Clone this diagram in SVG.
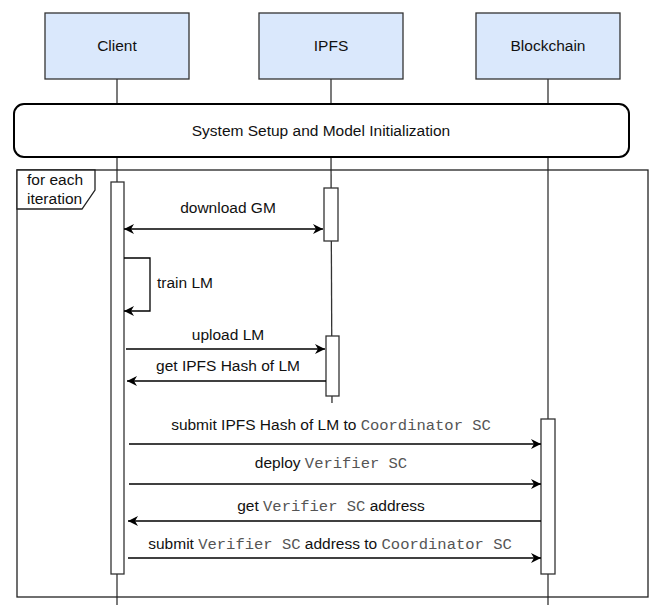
<svg xmlns="http://www.w3.org/2000/svg" width="654" height="605" viewBox="0 0 654 605">
  <style>
    .participant { fill: #dae8fc; stroke: #333; stroke-width: 1.3; }
    .lifeline { stroke: #333; stroke-width: 1.3; fill: none; }
    .activation { fill: #fff; stroke: #333; stroke-width: 1.3; }
    .msg { stroke: #000; stroke-width: 1.3; fill: none; marker-end: url(#arrow); }
    .label { font-family: "Liberation Sans", Arial, sans-serif; font-size: 15.5px; fill: #111; }
    .mono { font-family: "Liberation Mono", "Courier New", monospace; font-size: 15.5px; fill: #555; }
  </style>
  <defs>
    <marker id="arrow" viewBox="-11 -6 12 12" refX="0" refY="0" markerWidth="12" markerHeight="12" markerUnits="userSpaceOnUse" orient="auto-start-reverse">
      <path d="M0,0 L-10,-5 L-7,0 L-10,5 Z" fill="#000"/>
    </marker>
  </defs>
  <rect width="654" height="605" fill="#fff"/>

  <!-- lifelines -->
  <g id="lifelines">
    <line class="lifeline" x1="117" y1="79" x2="117" y2="104"/>
    <line class="lifeline" x1="117" y1="157" x2="117" y2="605"/>
    <line class="lifeline" x1="331" y1="79" x2="331" y2="104"/>
    <line class="lifeline" x1="331" y1="157" x2="332" y2="403"/>
    <line class="lifeline" x1="548" y1="79" x2="548" y2="104"/>
    <line class="lifeline" x1="548" y1="157" x2="548" y2="605"/>
  </g>

  <!-- participants -->
  <g id="client">
    <rect class="participant" x="45" y="13" width="144" height="66"/>
    <text class="label" x="117" y="51" text-anchor="middle">Client</text>
  </g>
  <g id="ipfs">
    <rect class="participant" x="259" y="13" width="144" height="66"/>
    <text class="label" x="331" y="51" text-anchor="middle">IPFS</text>
  </g>
  <g id="blockchain">
    <rect class="participant" x="476" y="13" width="144" height="66"/>
    <text class="label" x="548" y="51" text-anchor="middle">Blockchain</text>
  </g>

  <!-- setup phase -->
  <g id="setup">
    <rect x="14" y="104" width="615" height="53" rx="10" ry="10" fill="#fff" stroke="#000" stroke-width="2"/>
    <text class="label" x="321" y="136" text-anchor="middle">System Setup and Model Initialization</text>
  </g>

  <!-- loop frame -->
  <g id="loop-frame">
    <rect x="17" y="170" width="631" height="427" fill="none" stroke="#222" stroke-width="1.3"/>
    <path d="M17,170 H95 V190 L82,209 H17 Z" fill="#fff" stroke="#222" stroke-width="1.3"/>
    <text class="label" x="27" y="185">for each</text>
    <text class="label" x="27" y="204">iteration</text>
  </g>

  <!-- activations -->
  <g id="activations">
    <rect id="act-client" class="activation" x="111" y="182" width="13" height="392"/>
    <rect id="act-ipfs-1" class="activation" x="324" y="188" width="14" height="53"/>
    <rect id="act-ipfs-2" class="activation" x="326" y="336" width="13" height="60"/>
    <rect id="act-blockchain" class="activation" x="541" y="419" width="14" height="155"/>
  </g>

  <!-- messages -->
  <g id="connectors">
    <line class="msg" x1="124" y1="229" x2="323" y2="229" marker-start="url(#arrow)"/>
    <path class="msg" d="M124,258 H150 V311 H124"/>
    <line class="msg" x1="126" y1="349" x2="325" y2="349"/>
    <line class="msg" x1="326" y1="381" x2="127" y2="381"/>
    <line class="msg" x1="129" y1="444" x2="541" y2="444"/>
    <line class="msg" x1="129" y1="484" x2="541" y2="484"/>
    <line class="msg" x1="541" y1="521" x2="128" y2="521"/>
    <line class="msg" x1="128" y1="558" x2="541" y2="558"/>
  </g>

  <!-- message labels -->
  <g id="message-labels">
    <text class="label" x="228" y="213" text-anchor="middle">download GM</text>
    <text class="label" x="157" y="288">train LM</text>
    <text class="label" x="228" y="340" text-anchor="middle">upload LM</text>
    <text class="label" x="228" y="371" text-anchor="middle">get IPFS Hash of LM</text>
    <text class="label" x="331" y="430" text-anchor="middle">submit IPFS Hash of LM to <tspan class="mono">Coordinator SC</tspan></text>
    <text class="label" x="331" y="468" text-anchor="middle">deploy <tspan class="mono">Verifier SC</tspan></text>
    <text class="label" x="331" y="511" text-anchor="middle">get <tspan class="mono">Verifier SC</tspan> address</text>
    <text class="label" x="330" y="549" text-anchor="middle">submit <tspan class="mono">Verifier SC</tspan> address to <tspan class="mono">Coordinator SC</tspan></text>
  </g>
</svg>
